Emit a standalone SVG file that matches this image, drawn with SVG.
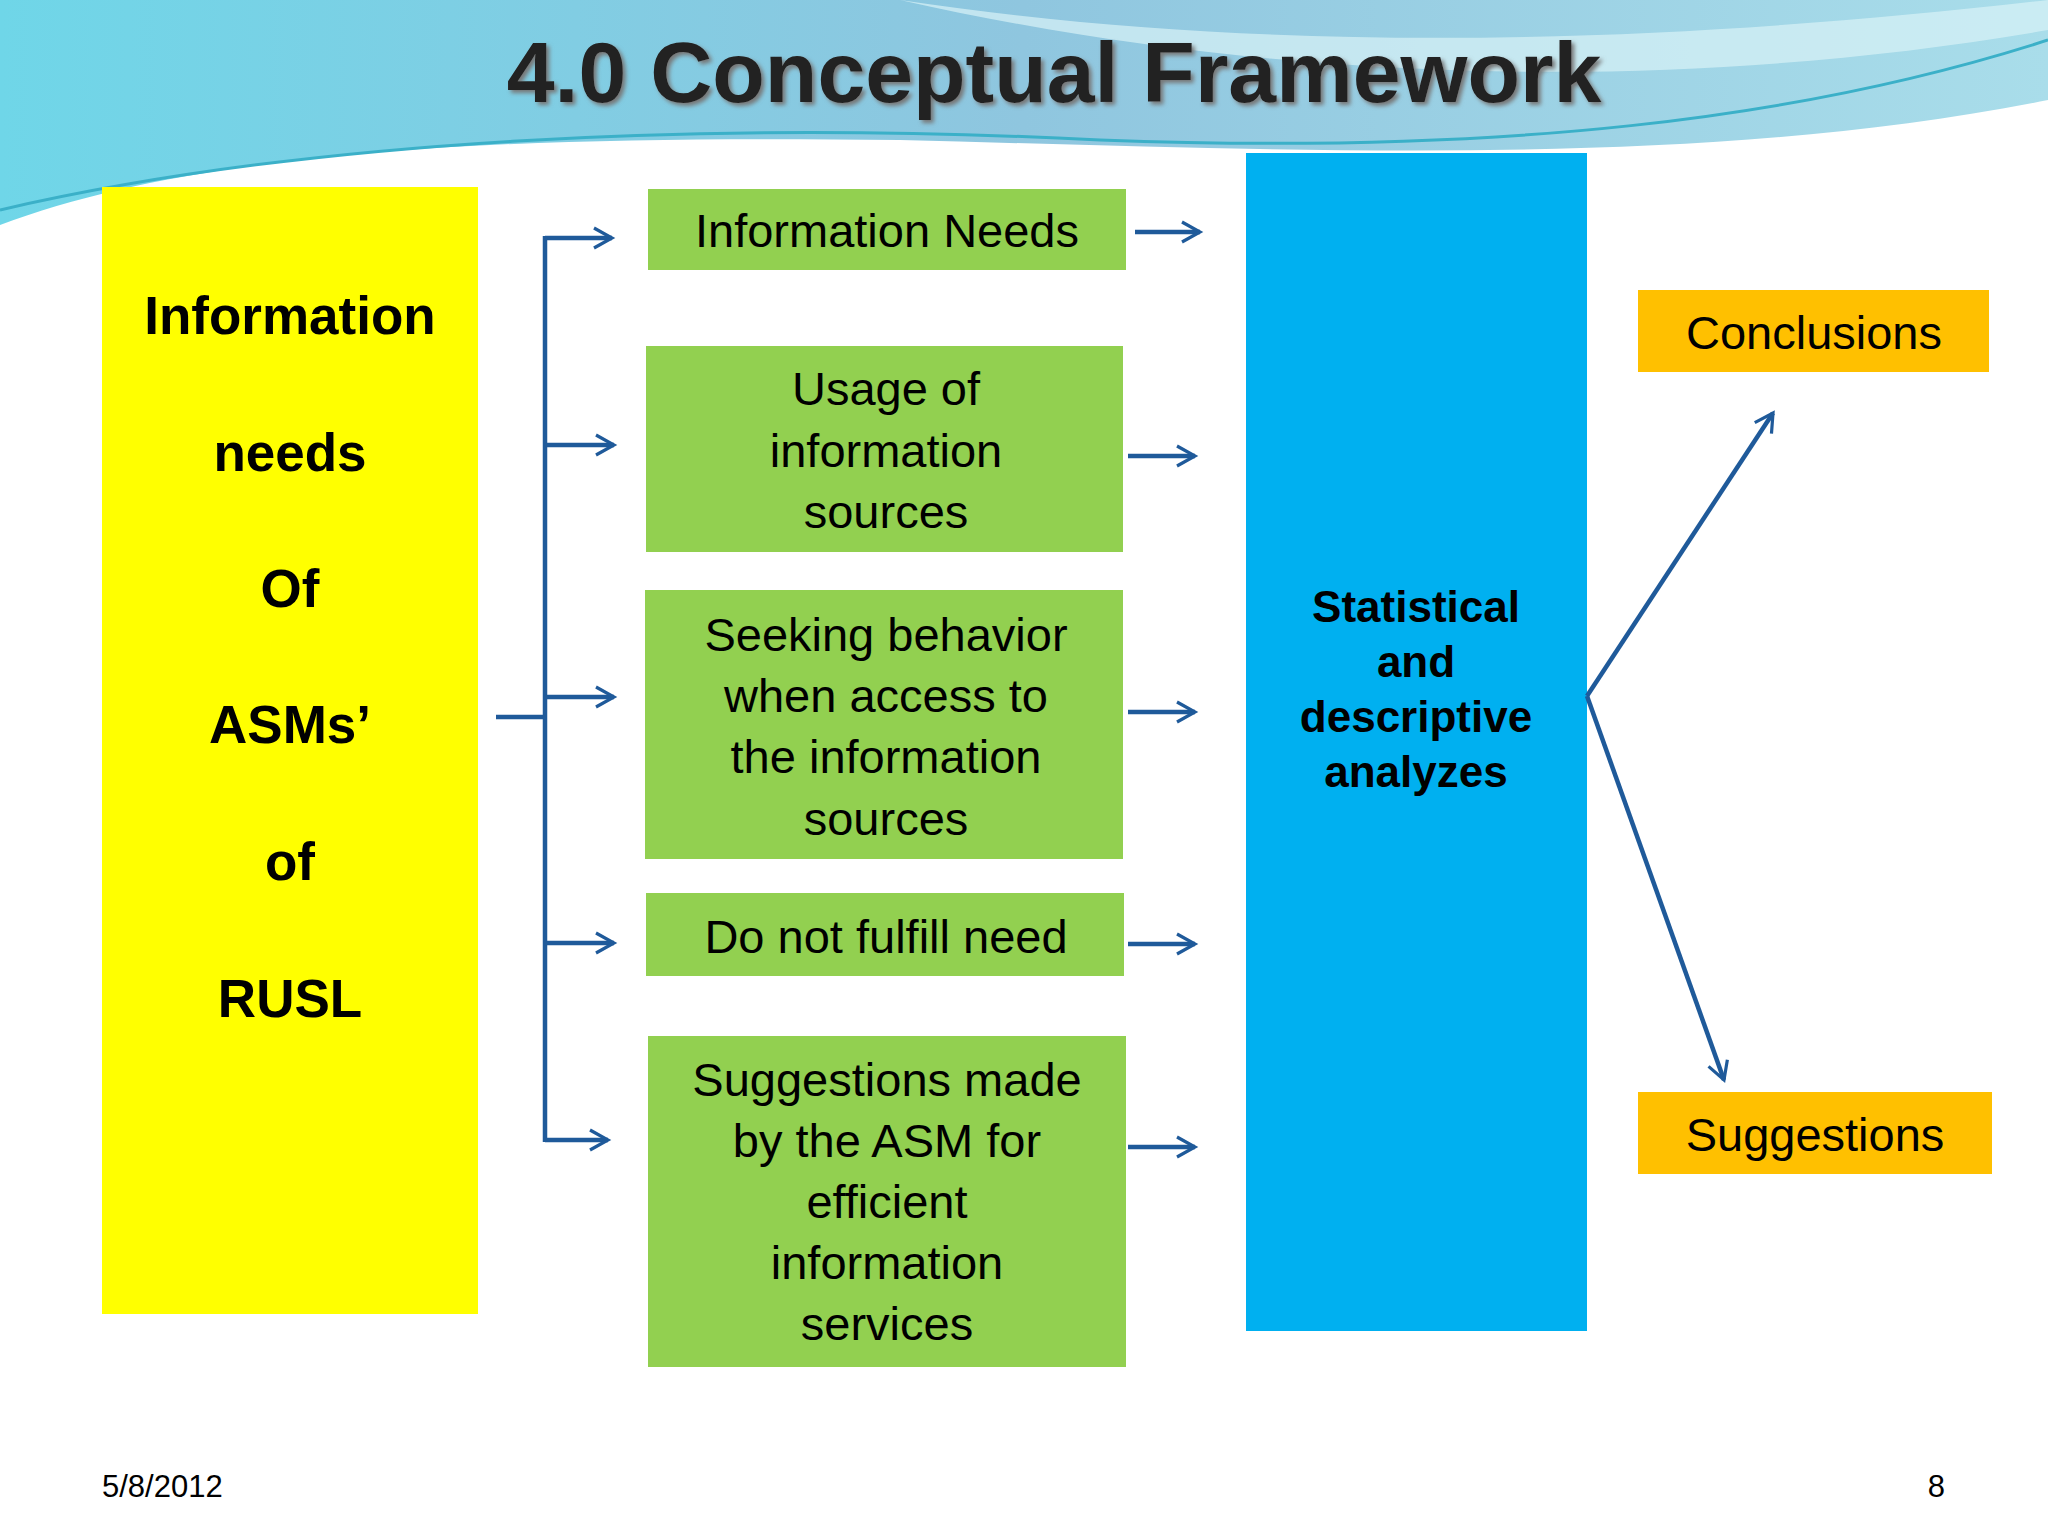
<svg xmlns="http://www.w3.org/2000/svg" width="2048" height="1536" viewBox="0 0 2048 1536">
<defs>
<linearGradient id="sky" x1="0" y1="0" x2="1" y2="0"><stop offset="0" stop-color="#6FD6E8"/><stop offset="0.5" stop-color="#8FC6DF"/><stop offset="1" stop-color="#A9DDEA"/></linearGradient>
<marker id="ah" viewBox="0 0 12 12" refX="10" refY="6" markerWidth="12" markerHeight="12" markerUnits="userSpaceOnUse" orient="auto"><path d="M1,1 L10,6 L1,11" fill="none" stroke="#1F5A9A" stroke-width="2.5"/></marker>
<marker id="ah2" viewBox="0 0 12 12" refX="10" refY="6" markerWidth="24" markerHeight="24" markerUnits="userSpaceOnUse" orient="auto"><path d="M1,1 L10,6 L1,11" fill="none" stroke="#1F5A9A" stroke-width="1.6"/></marker>
<filter id="sh"><feDropShadow dx="3" dy="3" stdDeviation="2" flood-color="#777"/></filter>
</defs>
<style>
.g{fill:#92D050}.t{font-family:"Liberation Sans",Arial,sans-serif;text-anchor:middle}
.gt{font-size:47px;fill:#000}.b{font-weight:bold}
.c{stroke:#1F5A9A;stroke-width:4.5;fill:none}
</style>
<rect width="2048" height="1536" fill="#fff"/>
<path d="M0,0 H2048 V100 C1700,170 1300,150 900,140 C500,135 200,150 0,225 Z" fill="url(#sky)"/>
<path d="M0,210 C300,140 700,120 1100,140 C1500,155 1800,120 2048,40" fill="none" stroke="#3BB0C8" stroke-width="3"/>
<path d="M900,0 C1300,60 1700,40 2048,0 V30 C1700,90 1300,90 900,0 Z" fill="#D8F2F7" opacity="0.7"/>
<text class="t b" x="1054" y="102" font-size="86" fill="#222" filter="url(#sh)">4.0 Conceptual Framework</text>
<g id="left"><rect x="102" y="187" width="376" height="1127" fill="#FFFF00"/>
<g class="t b" font-size="53"><text x="290" y="334">Information</text><text x="290" y="471">needs</text><text x="290" y="607">Of</text><text x="290" y="743">ASMs’</text><text x="290" y="880">of</text><text x="290" y="1017">RUSL</text></g></g>
<g id="n1"><rect class="g" x="648" y="189" width="478" height="81"/><text class="t gt" x="887" y="247">Information Needs</text></g>
<g id="n2"><rect class="g" x="646" y="346" width="477" height="206"/><text class="t gt"><tspan x="886" y="405">Usage of</tspan><tspan x="886" y="467">information</tspan><tspan x="886" y="528">sources</tspan></text></g>
<g id="n3"><rect class="g" x="645" y="590" width="478" height="269"/><text class="t gt"><tspan x="886" y="651">Seeking behavior</tspan><tspan x="886" y="712">when access to</tspan><tspan x="886" y="773">the information</tspan><tspan x="886" y="835">sources</tspan></text></g>
<g id="n4"><rect class="g" x="646" y="893" width="478" height="83"/><text class="t gt" x="886" y="953">Do not fulfill need</text></g>
<g id="n5"><rect class="g" x="648" y="1036" width="478" height="331"/><text class="t gt"><tspan x="887" y="1096">Suggestions made</tspan><tspan x="887" y="1157">by the ASM for</tspan><tspan x="887" y="1218">efficient</tspan><tspan x="887" y="1279">information</tspan><tspan x="887" y="1340">services</tspan></text></g>
<g id="stat"><rect x="1246" y="153" width="341" height="1178" fill="#00B0F0"/>
<text class="t b" font-size="44"><tspan x="1416" y="622">Statistical</tspan><tspan x="1416" y="677">and</tspan><tspan x="1416" y="732">descriptive</tspan><tspan x="1416" y="787">analyzes</tspan></text></g>
<g id="conc"><rect x="1638" y="290" width="351" height="82" fill="#FFC000"/><text class="t gt" x="1814" y="349">Conclusions</text></g>
<g id="sugg"><rect x="1638" y="1092" width="354" height="82" fill="#FFC000"/><text class="t gt" x="1815" y="1151">Suggestions</text></g>
<g id="connectors">
<path class="c" d="M496,717 H545 M545,236 V1142"/>
<path class="c" marker-end="url(#ah2)" d="M545,238 H612"/>
<path class="c" marker-end="url(#ah2)" d="M545,445 H614"/>
<path class="c" marker-end="url(#ah2)" d="M545,697 H614"/>
<path class="c" marker-end="url(#ah2)" d="M545,943 H614"/>
<path class="c" marker-end="url(#ah2)" d="M545,1140 H608"/>
<path class="c" marker-end="url(#ah2)" d="M1135,232 H1200"/>
<path class="c" marker-end="url(#ah2)" d="M1128,456 H1195"/>
<path class="c" marker-end="url(#ah2)" d="M1128,712 H1195"/>
<path class="c" marker-end="url(#ah2)" d="M1128,944 H1195"/>
<path class="c" marker-end="url(#ah2)" d="M1128,1147 H1195"/>
<path class="c" marker-end="url(#ah2)" d="M1587,696 L1773,413"/>
<path class="c" marker-end="url(#ah2)" d="M1587,696 L1724,1080"/>
</g>
<text x="102" y="1497" font-family="Liberation Sans,Arial,sans-serif" font-size="31">5/8/2012</text>
<text x="1945" y="1497" font-family="Liberation Sans,Arial,sans-serif" font-size="31" text-anchor="end">8</text>
</svg>
